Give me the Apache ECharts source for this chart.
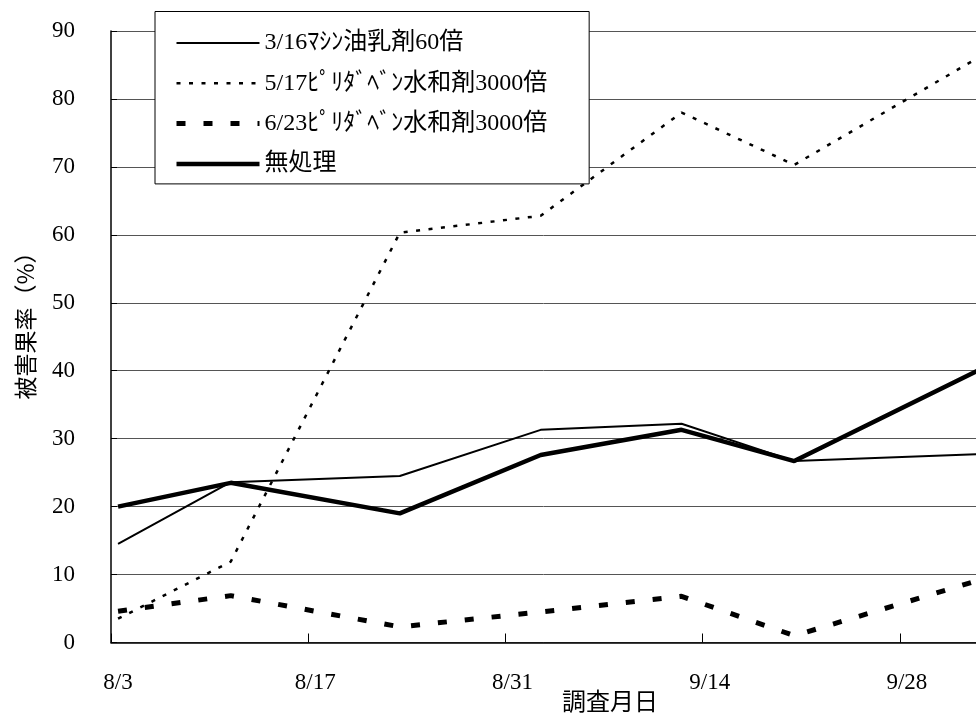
<!DOCTYPE html>
<html>
<head>
<meta charset="utf-8">
<script src="https://cdn.jsdelivr.net/npm/echarts@6/dist/echarts.min.js"></script>
<style>
  html, body { margin: 0; padding: 0; background: #fff; }
  #chart { width: 976px; height: 715px; }
</style>
</head>
<body>
<div id="chart"></div>
<script>
// Survey dates and damaged-fruit rates (%) per treatment
const surveyDates = ['8/3', '8/11', '8/23', '9/2', '9/12', '9/20', '10/3'];
const machineOil316 = [14.5, 23.6, 24.5, 31.3, 32.2, 26.7, 27.7];
const pyridaben517 = [3.5, 11.9, 60.3, 62.8, 78.0, 70.3, 86.0];
const pyridaben623 = [4.6, 6.9, 2.3, 4.5, 6.8, 1.0, 9.1];
const untreated = [20.0, 23.5, 19.0, 27.6, 31.3, 26.7, 40.0];

const seriesNames = [
  '3/16ﾏｼﾝ油乳剤60倍',
  '5/17ﾋﾟﾘﾀﾞﾍﾞﾝ水和剤3000倍',
  '6/23ﾋﾟﾘﾀﾞﾍﾞﾝ水和剤3000倍',
  '無処理'
];
const xTickLabels = ['8/3', '8/17', '8/31', '9/14', '9/28'];
const yTickLabels = ['0', '10', '20', '30', '40', '50', '60', '70', '80', '90'];

// line look of each treatment
const lineStyles = [
  { color: '#000', width: 2, type: 'solid' },
  { color: '#000', width: 2.5, type: [4, 8.5] },
  { color: '#000', width: 5, type: [9, 18] },
  { color: '#000', width: 4.5, type: 'solid' }
];

// days elapsed since 8/3
function dayOf(md) {
  const [m, d] = md.split('/').map(Number);
  return (Date.UTC(2000, m - 1, d) - Date.UTC(2000, 7, 3)) / 86400000;
}
// each survey day is plotted in the middle of its one-day slot
function pairs(values) {
  return surveyDates.map((d, i) => [dayOf(d) + 0.5, values[i]]);
}

const serifFont = '"Liberation Serif", "Noto Sans CJK JP", serif';
const labelFont = '"Liberation Serif", "Noto Sans CJK JP", sans-serif';

const chart = echarts.init(document.getElementById('chart'), null, { renderer: 'canvas' });

const valueSets = [machineOil316, pyridaben517, pyridaben623, untreated];

chart.setOption({
  animation: false,
  backgroundColor: '#ffffff',
  grid: { left: 111, right: 0, top: 31, bottom: 72.5, containLabel: false },
  xAxis: {
    type: 'value',
    min: 0,
    max: 61.4,
    interval: 14,
    axisLine: { lineStyle: { color: '#000', width: 1.5 } },
    axisTick: { inside: true, length: 9, lineStyle: { color: '#000', width: 1 } },
    splitLine: { show: false },
    axisLabel: {
      color: '#000',
      fontFamily: serifFont,
      fontSize: 23,
      margin: 29,
      padding: [0, 0, 0, 14],
      showMaxLabel: false,
      formatter: function (v) {
        const k = Math.round(v / 14);
        return Math.abs(v - k * 14) < 1e-6 && xTickLabels[k] ? xTickLabels[k] : '';
      }
    }
  },
  yAxis: {
    type: 'value',
    min: 0,
    max: 90,
    interval: 10,
    axisLine: { show: true, lineStyle: { color: '#000', width: 1.5 } },
    axisTick: { show: true, inside: true, length: 6, lineStyle: { color: '#000' } },
    splitLine: { show: true, lineStyle: { color: '#555', width: 1 } },
    axisLabel: {
      color: '#000',
      fontFamily: serifFont,
      fontSize: 23,
      margin: 36,
      formatter: function (v) { return yTickLabels[Math.round(v / 10)]; }
    }
  },
  legend: {
    orient: 'vertical',
    left: 155,
    top: 11.5,
    itemWidth: 83,
    itemHeight: 20,
    itemGap: 14.3,
    padding: [18.5, 42, 7, 19],
    backgroundColor: '#fff',
    borderColor: '#000',
    borderWidth: 1,
    itemStyle: { opacity: 0 },
    textStyle: { color: '#000', fontSize: 24, fontFamily: labelFont, lineHeight: 26 },
    data: seriesNames.map((name, i) => ({
      name: name,
      itemStyle: { opacity: 0 },
      lineStyle: { color: '#000', width: lineStyles[i].width, type: lineStyles[i].type }
    }))
  },
  graphic: [
    {
      type: 'text',
      x: 25, y: 320,
      rotation: Math.PI / 2,
      style: {
        text: '被害果率（%）',
        fill: '#000',
        font: '23px "Noto Sans CJK JP", sans-serif',
        align: 'center',
        verticalAlign: 'middle'
      }
    },
    {
      type: 'text',
      x: 610, y: 701,
      style: {
        text: '調査月日',
        fill: '#000',
        font: '24px "Noto Sans CJK JP", sans-serif',
        align: 'center',
        verticalAlign: 'middle'
      }
    }
  ],
  series: seriesNames.map((name, i) => ({
    name: name,
    type: 'line',
    data: pairs(valueSets[i]),
    symbol: 'none',
    lineStyle: lineStyles[i],
    itemStyle: { color: '#000' }
  }))
});
</script>
</body>
</html>
